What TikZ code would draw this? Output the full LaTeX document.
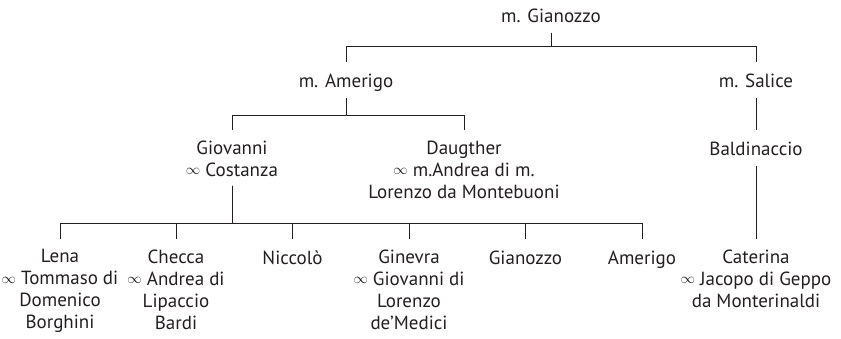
\documentclass[tikz,border=0pt]{standalone}
\usepackage{fontspec}
\setmainfont{PT Sans}
\usepackage{tikz}
\usetikzlibrary{calc,positioning}
\definecolor{ink}{HTML}{231F20}
\newcommand{\wed}{\raisebox{1.5pt}{\fontsize{14}{22}\selectfont$\infty$}}

\begin{document}
\begin{tikzpicture}[x=1pt,y=-1pt,color=ink]
	\tikzstyle{person} = [anchor=north, align=center, inner sep=0pt, outer sep=0pt, font=\fontsize{19}{22}\selectfont, execute at begin node=\strut]
	\tikzstyle{link} = [draw, line width=1pt, shorten <=3pt, shorten >=10.6pt]
	
	\useasboundingbox (0,0) rectangle (841,339);
	
	\node [person] (gianozzo) at (551,7.6) {m. Gianozzo};
	
	\node [person] (amerigo) at (346,72.6) {m. Amerigo};
	\node [person] (salice) at (756,72.6) {m. Salice};
	
	\node [person] (giovanni) at (232,140.6) {Giovanni\\\wed{} Costanza};
	\node [person] (daughter) at (464,140.6) {Daugther\\\wed{} m.Andrea di m.\\Lorenzo da Montebuoni};
	\node [person] (baldinaccio) at (756,140.6) {Baldinaccio};
	
	\node [person] (lena) at (60,249.6) {Lena\\\wed{} Tommaso di\\Domenico\\Borghini};
	\node [person] (checca) at (176,249.6) {Checca\\\wed{} Andrea di\\Lipaccio\\Bardi};
	\node [person] (niccolo) at (292.5,249.6) {Niccolò};
	\node [person] (ginevra) at (409,249.6) {Ginevra\\\wed{} Giovanni di\\Lorenzo\\de’Medici};
	\node [person] (gianozzo2) at (525.5,249.6) {Gianozzo};
	\node [person] (amerigo2) at (642,249.6) {Amerigo};
	\node [person] (caterina) at (756,249.6) {Caterina\\\wed{} Jacopo di Geppo\\da Monterinaldi};
	
	\coordinate (bar1) at (0,47);
	\coordinate (bar2) at (0,116);
	\coordinate (bar3) at (0,224);
	
	\draw [link] (gianozzo.south) -- (gianozzo.south |- bar1) -| (amerigo.north);
	\draw [link] (gianozzo.south) -- (gianozzo.south |- bar1) -| (salice.north);
	\draw [link] (amerigo.south) -- (amerigo.south |- bar2) -| (giovanni.north);
	\draw [link] (amerigo.south) -- (amerigo.south |- bar2) -| (daughter.north);
	\draw [link] (salice.south) -- (baldinaccio.north);
	\draw [link] (baldinaccio.south) -- (caterina.north);
	\draw [link] (giovanni.south) -- (giovanni.south |- bar3) -| (lena.north);
	\draw [link] (giovanni.south) -- (giovanni.south |- bar3) -| (checca.north);
	\draw [link] (giovanni.south) -- (giovanni.south |- bar3) -| (niccolo.north);
	\draw [link] (giovanni.south) -- (giovanni.south |- bar3) -| (ginevra.north);
	\draw [link] (giovanni.south) -- (giovanni.south |- bar3) -| (gianozzo2.north);
	\draw [link] (giovanni.south) -- (giovanni.south |- bar3) -| (amerigo2.north);
\end{tikzpicture}
\end{document}
